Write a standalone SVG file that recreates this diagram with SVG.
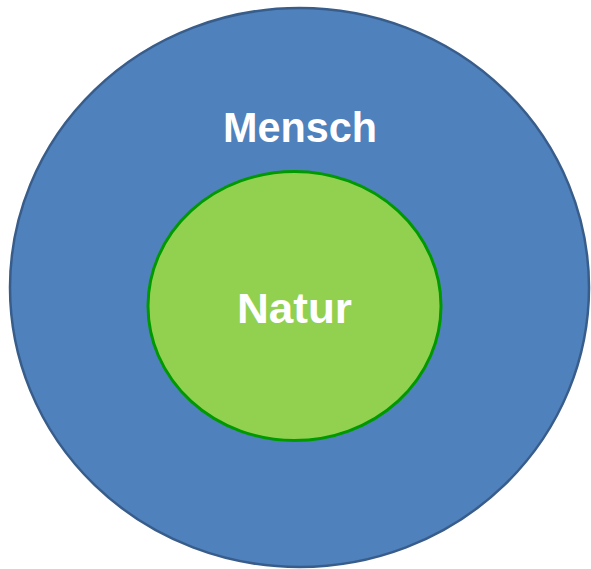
<svg xmlns="http://www.w3.org/2000/svg" width="591" height="569" viewBox="0 0 591 569">
<style>
.lbl{font-family:"Liberation Sans",Arial,sans-serif;font-weight:bold;font-size:42px;fill:#ffffff;text-anchor:middle}
</style>
<rect width="591" height="569" fill="#ffffff"/>
<g id="mensch">
<ellipse cx="299.5" cy="287.5" rx="289.5" ry="279.5" fill="#4f81bd" stroke="#385d8a" stroke-width="2.5"/>
<text class="lbl" x="300" y="142" textLength="154" lengthAdjust="spacingAndGlyphs">Mensch</text>
</g>
<g id="natur">
<ellipse cx="294.5" cy="306" rx="146.5" ry="134.5" fill="#92d050" stroke="#009a00" stroke-width="3"/>
<text class="lbl" x="294.5" y="323" textLength="115" lengthAdjust="spacingAndGlyphs">Natur</text>
</g>
<g id="connectors"/>
</svg>
